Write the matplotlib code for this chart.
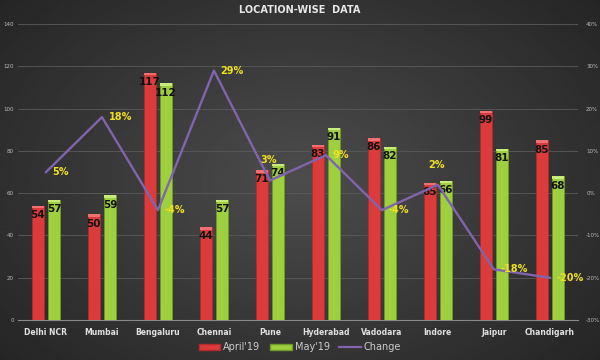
import numpy as np
import matplotlib
matplotlib.use("Agg")
import matplotlib.pyplot as plt
from matplotlib.lines import Line2D
from matplotlib.patches import Patch

categories = ["Delhi NCR", "Mumbai", "Bengaluru", "Chennai", "Pune",
              "Hyderabad", "Vadodara", "Indore", "Jaipur", "Chandigarh"]
april = [54, 50, 117, 44, 71, 83, 86, 65, 99, 85]
may = [57, 59, 112, 57, 74, 91, 82, 66, 81, 68]
change = [5, 18, -4, 29, 3, 9, -4, 2, -18, -20]
left_ticks = [0, 20, 40, 60, 80, 100, 120, 140]
right_ticks = [-30, -20, -10, 0, 10, 20, 30, 40]
label_above = ["Pune", "Indore"]

fig = plt.figure(figsize=(6, 3.6), dpi=100)
# background radial gradient
bg = fig.add_axes([0, 0, 1, 1])
yy, xx = np.mgrid[-1:1:200j, -1:1:300j]
r = np.sqrt(xx**2 * 0.8 + yy**2 * 0.6)
vals = 0.30 - 0.13 * np.clip(r, 0, 1.3)
bg.imshow(vals, cmap="gray", vmin=0, vmax=1, aspect="auto", extent=[0, 1, 0, 1])
bg.set_axis_off()

ax = fig.add_axes([0.03, 0.111, 0.933, 0.822])
ax.patch.set_alpha(0)
x = np.arange(len(categories))
w = 0.21
off = 0.145
red = "#dc3b3b"
green = "#9dcf3f"
ax.bar(x - off, april, w, color=red, edgecolor="#b22a2a", linewidth=0.6, zorder=3)
ax.bar(x + off, may, w, color=green, edgecolor="#6f9a25", linewidth=0.6, zorder=3)
# top highlights
ax.bar(x - off, [1.2] * len(x), w, bottom=np.array(april) - 1.2, color="#f07070", linewidth=0, zorder=4)
ax.bar(x + off, [1.2] * len(x), w, bottom=np.array(may) - 1.2, color="#c8ec7a", linewidth=0, zorder=4)

for xi, a, m in zip(x, april, may):
    ax.text(xi - off, a - 2, str(a), ha="center", va="top", fontsize=7.5,
            fontweight="bold", color="#111111", zorder=6)
    ax.text(xi + off, m - 2, str(m), ha="center", va="top", fontsize=7.5,
            fontweight="bold", color="#111111", zorder=6)

ax.set_ylim(0, 140)
ax.set_xlim(-0.5, len(categories) - 0.5)
ax.set_yticks(left_ticks)
ax.set_yticklabels([str(t) for t in left_ticks])
ax.tick_params(axis="y", labelsize=4, colors="#bbbbbb", length=0, pad=3)
ax.set_xticks(x)
ax.set_xticklabels(categories, fontsize=5.5, fontweight="bold", color="#e0e0e0")
ax.tick_params(axis="x", length=0, pad=6)
ax.grid(axis="y", color="#5a5a5a", linewidth=0.6, zorder=0)
for s in ["top", "right", "left"]:
    ax.spines[s].set_visible(False)
ax.spines["bottom"].set_color("#8a8a8a")
ax.spines["bottom"].set_linewidth(0.8)

ax2 = ax.twinx()
ax2.set_ylim(-30, 40)
ax2.set_yticks(right_ticks)
ax2.set_yticklabels([f"{t}%" for t in right_ticks])
ax2.tick_params(axis="y", labelsize=4, colors="#bbbbbb", length=0, pad=6)
for s in ax2.spines.values():
    s.set_visible(False)
purple = "#8064ae"
ax2.plot(x, change, color=purple, linewidth=1.7, zorder=5)
for xi, c, cat in zip(x, change, categories):
    if cat in label_above:
        ax2.text(xi - 0.03, c + 3.6, f"{c}%", ha="center", va="bottom", fontsize=7,
                 fontweight="bold", color="#f0e020", zorder=7)
    else:
        ax2.text(xi + 0.12, c, f"{c}%", ha="left", va="center", fontsize=7,
                 fontweight="bold", color="#f0e020", zorder=7)

fig.text(0.5, 0.972, "LOCATION-WISE  DATA", ha="center", va="center",
         fontsize=7, fontweight="bold", color="#e8e8e8")

handles = [Patch(facecolor=red, edgecolor="#b22a2a", label="April'19"),
           Patch(facecolor=green, edgecolor="#6f9a25", label="May'19"),
           Line2D([0], [0], color=purple, linewidth=1.6, label="Change")]
fig.legend(handles=handles, loc="center", bbox_to_anchor=(0.5, 0.035), ncol=3,
           frameon=False, fontsize=7, labelcolor="#cccccc", handlelength=2.2,
           handleheight=0.6, columnspacing=1.0, handletextpad=0.3)

fig.savefig("out.png", dpi=100)
